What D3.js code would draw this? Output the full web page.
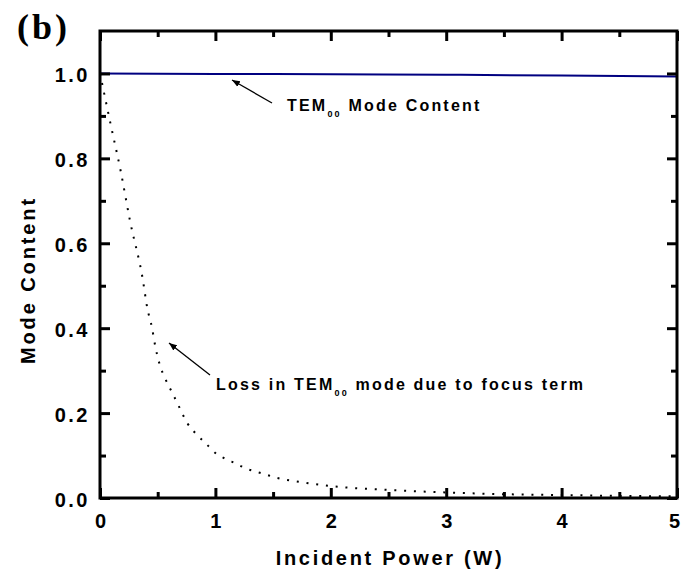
<!DOCTYPE html>
<html>
<head>
<meta charset="utf-8">
<script src="https://cdn.jsdelivr.net/npm/d3@7"></script>
<style>
  body { margin: 0; background: #fff; }
  text { font-family: "Liberation Sans", Arial, sans-serif; font-weight: bold; fill: #000; }
  text.panel { font-family: "Liberation Serif", "Times New Roman", serif; }
</style>
</head>
<body>
<div id="chart"></div>
<script>
// TEM00 mode content vs incident power (solid navy line)
const temPower = [0, 1, 2, 3, 4, 5];
const temContent = [1.0, 0.999, 0.998, 0.997, 0.995, 0.993];

// loss in TEM00 mode due to focus term (dotted line)
const lossPower = [0, 0.02, 0.09, 0.18, 0.26, 0.37, 0.41, 0.45, 0.48, 0.52, 0.56, 0.60, 0.64, 0.68, 0.72, 0.76,
    0.84, 0.93, 1.0, 1.09, 1.18, 1.26, 1.34, 1.43, 1.51, 1.59, 1.68, 2.0, 2.5, 3.0, 3.5, 4.0, 4.5, 5.0];
const lossContent = [1.0, 0.974, 0.883, 0.769, 0.653, 0.516, 0.447, 0.402, 0.356, 0.312, 0.284, 0.262, 0.240, 0.218, 0.195, 0.175,
    0.149, 0.125, 0.106, 0.092, 0.081, 0.070, 0.063, 0.056, 0.049, 0.044, 0.040, 0.028, 0.019, 0.013, 0.009, 0.007, 0.005, 0.004];

const xMajor = [0, 1, 2, 3, 4, 5];
const xMinor = [0.5, 1.5, 2.5, 3.5, 4.5];
const yMajor = [0, 0.2, 0.4, 0.6, 0.8, 1.0];
const yMinor = [0.1, 0.3, 0.5, 0.7, 0.9];

const W = 682, H = 570;
const margin = { top: 31, right: 5, bottom: 72, left: 100 };

const svg = d3.select('#chart').append('svg')
    .attr('width', W).attr('height', H);

const x = d3.scaleLinear().domain([0, 5]).range([margin.left, W - margin.right]);
const y = d3.scaleLinear().domain([0, 1.1]).range([H - margin.bottom, margin.top]);

// arrow head
svg.append('defs').append('marker')
    .attr('id', 'arrow').attr('viewBox', '0 0 10 10')
    .attr('refX', 10).attr('refY', 5)
    .attr('markerWidth', 8).attr('markerHeight', 8)
    .attr('markerUnits', 'userSpaceOnUse')
    .attr('orient', 'auto-start-reverse')
    .append('path').attr('d', 'M0,1 L10,5 L0,9 Z').attr('fill', '#000');

// curves
const lossLine = d3.line().x((d, i) => x(lossPower[i])).y(d => y(d)).curve(d3.curveMonotoneX);
svg.append('path')
    .attr('d', lossLine(lossContent))
    .attr('fill', 'none').attr('stroke', '#000')
    .attr('stroke-width', 2).attr('stroke-dasharray', '2,7.8');

const temLine = d3.line().x((d, i) => x(temPower[i])).y(d => y(d)).curve(d3.curveMonotoneX);
svg.append('path')
    .attr('d', temLine(temContent))
    .attr('fill', 'none').attr('stroke', '#000080').attr('stroke-width', 2);

// axes: ticks point inward on all four sides
function tickAxis(axis, tr, cls) {
    const g = svg.append('g').attr('class', cls).attr('transform', tr).call(axis);
    g.select('.domain').remove();
    g.selectAll('.tick line').attr('stroke', '#000').attr('stroke-width', 3);
    return g;
}

const bottom = tickAxis(d3.axisBottom(x).tickValues(xMajor).tickSize(-10).tickPadding(16).tickFormat(d3.format('d')),
    `translate(0,${y(0)})`, 'x-axis');
bottom.selectAll('text').attr('font-size', '20px').attr('dx', d => d === 5 ? -3 : 0);
tickAxis(d3.axisBottom(x).tickValues(xMinor).tickSize(-6).tickFormat(''), `translate(0,${y(0)})`, 'x-minor');
tickAxis(d3.axisTop(x).tickValues(xMajor).tickSize(-10).tickFormat(''), `translate(0,${margin.top})`, 'x-top');
tickAxis(d3.axisTop(x).tickValues(xMinor).tickSize(-6).tickFormat(''), `translate(0,${margin.top})`, 'x-top-minor');

const left = tickAxis(d3.axisLeft(y).tickValues(yMajor).tickSize(-10).tickPadding(10).tickFormat(d3.format('.1f')),
    `translate(${x(0)},0)`, 'y-axis');
left.selectAll('text').attr('font-size', '20px')
    .attr('letter-spacing', '2.5px').attr('dy', '0.42em');
tickAxis(d3.axisLeft(y).tickValues(yMinor).tickSize(-6).tickFormat(''), `translate(${x(0)},0)`, 'y-minor');
tickAxis(d3.axisRight(y).tickValues(yMajor).tickSize(-10).tickFormat(''), `translate(${x(5)},0)`, 'y-right');
tickAxis(d3.axisRight(y).tickValues(yMinor).tickSize(-6).tickFormat(''), `translate(${x(5)},0)`, 'y-right-minor');

// frame
svg.append('rect')
    .attr('x', x(0)).attr('y', y(1.1))
    .attr('width', x(5) - x(0)).attr('height', y(0) - y(1.1))
    .attr('fill', 'none').attr('stroke', '#000').attr('stroke-width', 3);

// axis titles
svg.append('text')
    .attr('x', (x(0) + x(5)) / 2 + 1.5).attr('y', 565)
    .attr('text-anchor', 'middle').attr('font-size', '20px').attr('letter-spacing', '2.7px')
    .text('Incident Power (W)');

svg.append('text')
    .attr('transform', 'translate(35,280) rotate(-90)')
    .attr('text-anchor', 'middle').attr('font-size', '20px').attr('letter-spacing', '2.9px')
    .text('Mode Content');

// panel label
svg.append('text').attr('class', 'panel')
    .attr('x', 17).attr('y', 39)
    .attr('font-size', '36px').attr('letter-spacing', '3px')
    .text('(b)');

// annotations
function annotate(tx, ty, label) {
    const t = svg.append('text').attr('x', tx).attr('y', ty)
        .attr('font-size', '16px').attr('letter-spacing', '2.2px');
    t.append('tspan').text(label[0]);
    t.append('tspan').attr('font-size', '9px').attr('dy', 6).text('00');
    t.append('tspan').attr('dy', -6).text(label[1]);
}
annotate(287, 111, ['TEM', ' Mode Content']);
annotate(216, 390, ['Loss in TEM', ' mode due to focus term']);

svg.append('line')
    .attr('x1', 272).attr('y1', 103).attr('x2', 232).attr('y2', 80)
    .attr('stroke', '#000').attr('stroke-width', 1.3).attr('marker-end', 'url(#arrow)');
svg.append('line')
    .attr('x1', 210).attr('y1', 375).attr('x2', 169).attr('y2', 343)
    .attr('stroke', '#000').attr('stroke-width', 1.3).attr('marker-end', 'url(#arrow)');
</script>
</body>
</html>
